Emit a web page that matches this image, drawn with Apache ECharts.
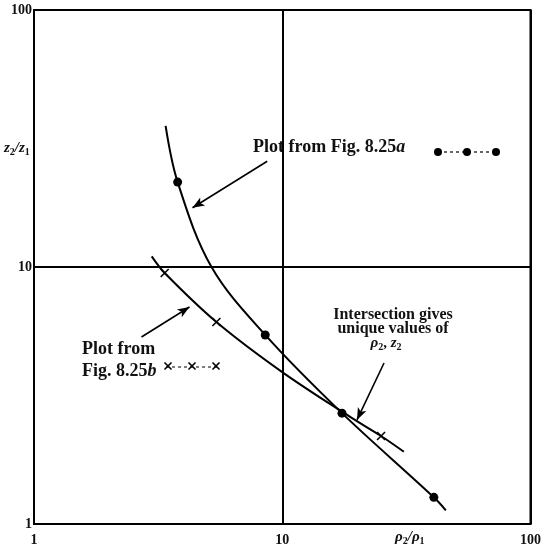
<!DOCTYPE html>
<html><head><meta charset="utf-8">
<script src="https://cdn.jsdelivr.net/npm/echarts@6/dist/echarts.min.js"></script>
<style>html,body{margin:0;padding:0;background:#fff}#c{width:544px;height:551px}</style>
</head><body><div id="c"></div>
<script>
// Curve from Fig. 8.25a (dots)
const curveAx = [3.39, 3.79, 5.19, 8.54, 17.4, 40.8, 45.6];
const curveAy = [35.4, 21.4, 10.0, 5.44, 2.70, 1.27, 1.13];
const curveAmarked = [false, true, false, true, true, true, false];
// Curve from Fig. 8.25b (crosses)
const curveBx = [2.98, 3.36, 5.43, 10.0, 18.9, 25.0, 30.9];
const curveBy = [11.0, 9.48, 6.11, 3.9, 2.6, 2.20, 1.91];
const curveBmarked = [false, true, true, false, false, true, false];
// Annotation arrows (data coordinates)
const arrowFrom = [[8.7, 25.8], [2.71, 5.34], [25.7, 4.23]];
const arrowTo = [[4.35, 17.0], [4.23, 6.99], [20.0, 2.54]];

const SERIF = '"Liberation Serif", "DejaVu Serif", serif';
const crossPath = 'path://M0,0L10,10M10,0L0,10';

const chart = echarts.init(document.getElementById('c'), null, {renderer: 'canvas'});

const dataA = curveAx.map((x, i) => ({value: [x, curveAy[i]], symbol: curveAmarked[i] ? 'circle' : 'none'}));
const dataB = curveBx.map((x, i) => ({value: [x, curveBy[i]], symbol: curveBmarked[i] ? crossPath : 'none'}));

const axisCommon = {
  type: 'log', logBase: 10, min: 1, max: 100,
  axisLine: {show: true, lineStyle: {color: '#000', width: 2}},
  axisTick: {show: false},
  minorTick: {show: false},
  splitLine: {show: true, lineStyle: {color: '#000', width: 2}},
  axisLabel: {color: '#111', fontFamily: SERIF, fontWeight: 'bold', fontSize: 14}
};

function crossLines(cx, cy) {
  return [
    {type: 'line', shape: {x1: cx - 3.5, y1: cy - 3.5, x2: cx + 3.5, y2: cy + 3.5}, style: {stroke: '#000', lineWidth: 1.6}},
    {type: 'line', shape: {x1: cx + 3.5, y1: cy - 3.5, x2: cx - 3.5, y2: cy + 3.5}, style: {stroke: '#000', lineWidth: 1.6}}
  ];
}

const richSerif = {
  n: {fontFamily: SERIF, fontWeight: 'bold', fontSize: 18},
  i: {fontFamily: SERIF, fontStyle: 'italic', fontWeight: 'bold', fontSize: 18}
};
const richMath = {
  i: {fontFamily: SERIF, fontStyle: 'italic', fontWeight: 'bold', fontSize: 15},
  n: {fontFamily: SERIF, fontWeight: 'bold', fontSize: 15},
  s: {fontFamily: SERIF, fontWeight: 'bold', fontSize: 10, padding: [7, 0, 0, 0]}
};

chart.setOption({
  animation: false,
  backgroundColor: '#fff',
  grid: {left: 34, right: 12, top: 10, bottom: 27, show: true, borderColor: '#000', borderWidth: 2},
  xAxis: Object.assign({}, axisCommon, {axisLabel: Object.assign({}, axisCommon.axisLabel, {margin: 9})}),
  yAxis: Object.assign({}, axisCommon, {axisLabel: Object.assign({}, axisCommon.axisLabel, {margin: 2})}),
  series: [
    {
      type: 'line', data: dataA, smooth: 0.35, symbolSize: 9,
      lineStyle: {color: '#000', width: 2}, itemStyle: {color: '#000'},
      markLine: {
        silent: true, symbol: ['none', 'arrow'], symbolSize: [7, 12],
        lineStyle: {color: '#000', width: 1.6, type: 'solid'},
        label: {show: false},
        data: arrowFrom.map((f, i) => [{coord: f}, {coord: arrowTo[i]}])
      }
    },
    {
      type: 'line', data: dataB, smooth: 0.35, symbolSize: 8,
      lineStyle: {color: '#000', width: 2},
      itemStyle: {color: 'none', borderColor: '#000', borderWidth: 1.6}
    }
  ],
  graphic: [
    {type: 'rect', shape: {x: 278, y: 133, width: 10, height: 31}, style: {fill: '#fff'}},
    {type: 'text', x: 253, y: 138, style: {text: '{n|Plot from Fig. 8.25}{i|a}', fill: '#111', rich: richSerif}},
    {type: 'line', shape: {x1: 438, y1: 152, x2: 496, y2: 152}, style: {stroke: '#000', lineWidth: 1.2, lineDash: [3, 3]}},
    {type: 'circle', shape: {cx: 438, cy: 152, r: 4}, style: {fill: '#000'}},
    {type: 'circle', shape: {cx: 467, cy: 152, r: 4}, style: {fill: '#000'}},
    {type: 'circle', shape: {cx: 496, cy: 152, r: 4}, style: {fill: '#000'}},
    {type: 'text', x: 82, y: 340, style: {text: 'Plot from', fill: '#111', font: 'bold 18px ' + SERIF}},
    {type: 'text', x: 82, y: 362, style: {text: '{n|Fig. 8.25}{i|b}', fill: '#111', rich: richSerif}},
    {type: 'line', shape: {x1: 166, y1: 367, x2: 217, y2: 367}, style: {stroke: '#000', lineWidth: 1.2, lineDash: [3, 3]}}
  ].concat(crossLines(168, 366), crossLines(192, 366), crossLines(216, 366), [
    {type: 'text', x: 393, y: 308, style: {text: 'Intersection gives\nunique values of', fill: '#111', font: 'bold 16px ' + SERIF, align: 'center', lineHeight: 14}},
    {type: 'text', x: 386, y: 335, style: {text: '{i|ρ}{s|2}{n|, }{i|z}{s|2}', align: 'center', fill: '#111', rich: richMath}},
    {type: 'text', x: 4, y: 140, style: {text: '{i|z}{s|2}{i|/z}{s|1}', fill: '#111', rich: richMath}},
    {type: 'text', x: 395, y: 529, style: {text: '{i|ρ}{s|2}{i|/ρ}{s|1}', fill: '#111', rich: richMath}}
  ])
});
</script></body></html>
